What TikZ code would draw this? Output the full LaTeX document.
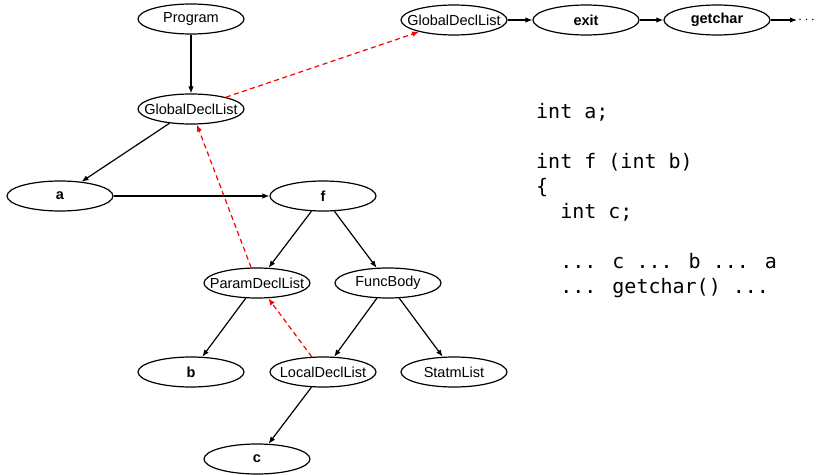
\documentclass[tikz,border=0pt]{standalone}
\usepackage{fontspec}
\setmainfont{Liberation Sans}
\newfontfamily\codefont{DejaVu Sans Mono}
\usetikzlibrary{shapes.geometric}
\usetikzlibrary{arrows.meta}

\begin{document}
\begin{tikzpicture}[x=1pt,y=-1pt,
    tree/.style={ellipse,draw,line width=1.2pt,minimum width=106pt,minimum height=30pt,
      inner xsep=-10pt,inner ysep=0pt,font=\fontsize{14.5}{17}\selectfont},
    ident/.style={tree,font=\fontsize{14.5}{17}\selectfont\bfseries},
    edge/.style={-{Latex[length=7pt,width=5.5pt]},line width=1.2pt},
    link/.style={edge,red,dash pattern=on 5pt off 3.5pt}]
  \useasboundingbox (0,0) rectangle (819,474);

  \node[tree] (prog) at (191,19) {Program};
  \node[tree] (gdl) at (191,109) {GlobalDeclList};
  \node[ident] (a) at (60,196) {a};
  \node[ident] (f) at (323,196) {f};
  \node[tree] (pdl) at (257,283) {ParamDeclList};
  \node[tree] (body) at (388,283) {FuncBody};
  \node[ident] (b) at (191,372) {b};
  \node[tree] (ldl) at (323,372) {LocalDeclList};
  \node[tree] (stm) at (454,372) {StatmList};
  \node[ident] (c) at (257,459) {c};

  \node[tree] (env) at (454,20) {GlobalDeclList};
  \node[ident] (exit) at (586,20) {exit};
  \node[ident] (getchar) at (717,20) {getchar};
  \node[anchor=west,inner sep=1pt,font=\fontsize{14.5}{17}\selectfont] (more) at (797,20) {$\cdots$};

  \draw[edge] (prog) -- (gdl);
  \draw[edge] (gdl) -- (a);
  \draw[edge] (a) -- (f);
  \draw[edge] (f) -- (pdl);
  \draw[edge] (f) -- (body);
  \draw[edge] (pdl) -- (b);
  \draw[edge] (body) -- (ldl);
  \draw[edge] (body) -- (stm);
  \draw[edge] (ldl) -- (c);
  \draw[edge] (env) -- (exit);
  \draw[edge] (exit) -- (getchar);
  \draw[edge] (getchar) -- (more);

  \draw[link] (gdl) -- (env);
  \draw[link] (pdl) -- (gdl);
  \draw[link] (ldl) -- (pdl);

  \node[anchor=base west,inner sep=0pt,align=left,font=\codefont\fontsize{20}{25}\selectfont] (code) at (536,293)
    {int a;\\[25pt]int f (int b)\\\{\\\ \ int c;\\[25pt]\ \ ... c ... b ... a\\\ \ ... getchar() ...};
\end{tikzpicture}
\end{document}
